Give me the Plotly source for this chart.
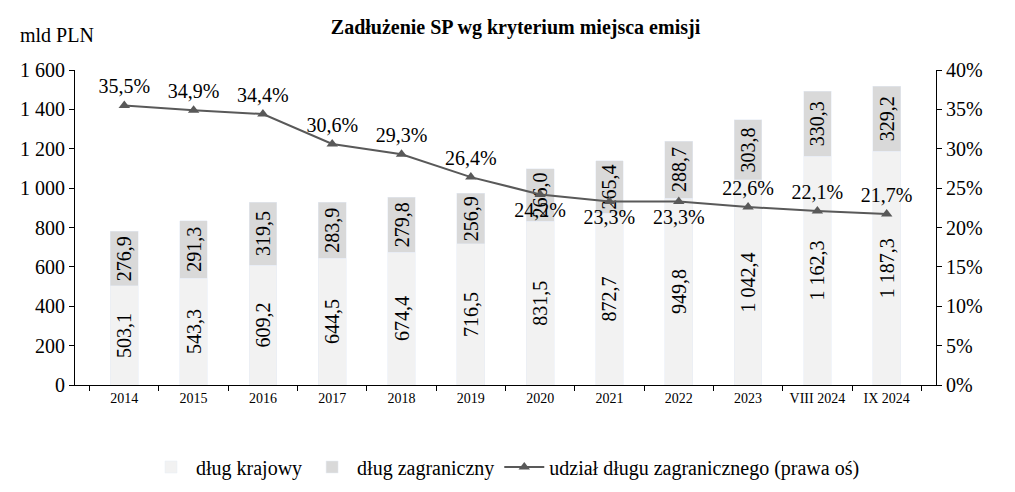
import plotly.graph_objects as go

# dane: zadluzenie SP wg miejsca emisji (mld PLN) i udzial dlugu zagranicznego
okresy = ['2014', '2015', '2016', '2017', '2018', '2019', '2020', '2021', '2022', '2023',
          'VIII 2024', 'IX 2024']
dlug_krajowy = [503.1, 543.3, 609.2, 644.5, 674.4, 716.5, 831.5, 872.7, 949.8, 1042.4, 1162.3, 1187.3]
dlug_zagraniczny = [276.9, 291.3, 319.5, 283.9, 279.8, 256.9, 266.0, 265.4, 288.7, 303.8, 330.3, 329.2]
udzial = [0.355, 0.349, 0.344, 0.306, 0.293, 0.264, 0.242, 0.233, 0.233, 0.226, 0.221, 0.217]

FONT = 'Liberation Serif'

# etykiety procentow - pod punktem dla 2020-2022
pozycje = ['bottom center' if o in ('2020', '2021', '2022') else 'top center' for o in okresy]

fig = go.Figure()
fig.add_trace(go.Bar(x=okresy, y=dlug_krajowy, name='dług krajowy', marker_color='#f2f2f2',
                     width=0.4, texttemplate='%{y:,.1f}', textposition='inside',
                     insidetextanchor='middle', textangle=-90, constraintext='none',
                     textfont=dict(size=20, color='black', family=FONT)))
fig.add_trace(go.Bar(x=okresy, y=dlug_zagraniczny, name='dług zagraniczny', marker_color='#d9d9d9',
                     width=0.4, texttemplate='%{y:,.1f}', textposition='inside',
                     insidetextanchor='middle', textangle=-90, constraintext='none',
                     textfont=dict(size=20, color='black', family=FONT)))
fig.add_trace(go.Scatter(x=okresy, y=udzial, name='udział długu zagranicznego (prawa oś)',
                         yaxis='y2', mode='lines+markers+text',
                         line=dict(color='#595959', width=2),
                         marker=dict(symbol='triangle-up', size=10, color='#595959'),
                         texttemplate='%{y:.1%}', textposition=pozycje,
                         textfont=dict(size=20, color='black', family=FONT)))

fig.update_layout(
    width=1015, height=492, barmode='stack', separators=', ',
    plot_bgcolor='white', paper_bgcolor='white',
    font=dict(family=FONT, size=20, color='black'),
    margin=dict(l=67, r=87, t=62, b=115),
    title=dict(text='<b>Zadłużenie SP wg kryterium miejsca emisji</b>', x=0.5, xanchor='center',
               y=1 - 19 / 492, yanchor='middle', font=dict(size=20, family=FONT)),
    xaxis=dict(showline=True, linecolor='black', linewidth=1, ticks='outside', ticklen=5,
               tickson='boundaries', tickcolor='black', tickfont=dict(size=14), showgrid=False),
    yaxis=dict(range=[0, 1600], dtick=200, tickformat=',d', showline=True, linecolor='black',
               ticks='outside', ticklen=5, tickcolor='black', showgrid=False, zeroline=False),
    yaxis2=dict(range=[0, 0.4], dtick=0.05, tickformat='.0%', overlaying='y', side='right',
                showline=True, linecolor='black', ticks='outside', ticklen=5, tickcolor='black',
                showgrid=False, zeroline=False),
    legend=dict(orientation='h', x=0.5, xanchor='center', y=-(459 - 377) / 315, yanchor='middle',
                font=dict(size=20), traceorder='normal', itemwidth=40),
    annotations=[dict(text='mld PLN', xref='paper', yref='paper', x=-(67 - 10) / 861,
                      y=(377 - 27) / 315, xanchor='left', yanchor='middle', showarrow=False,
                      font=dict(size=20))],
)

fig.write_html('out.html')
